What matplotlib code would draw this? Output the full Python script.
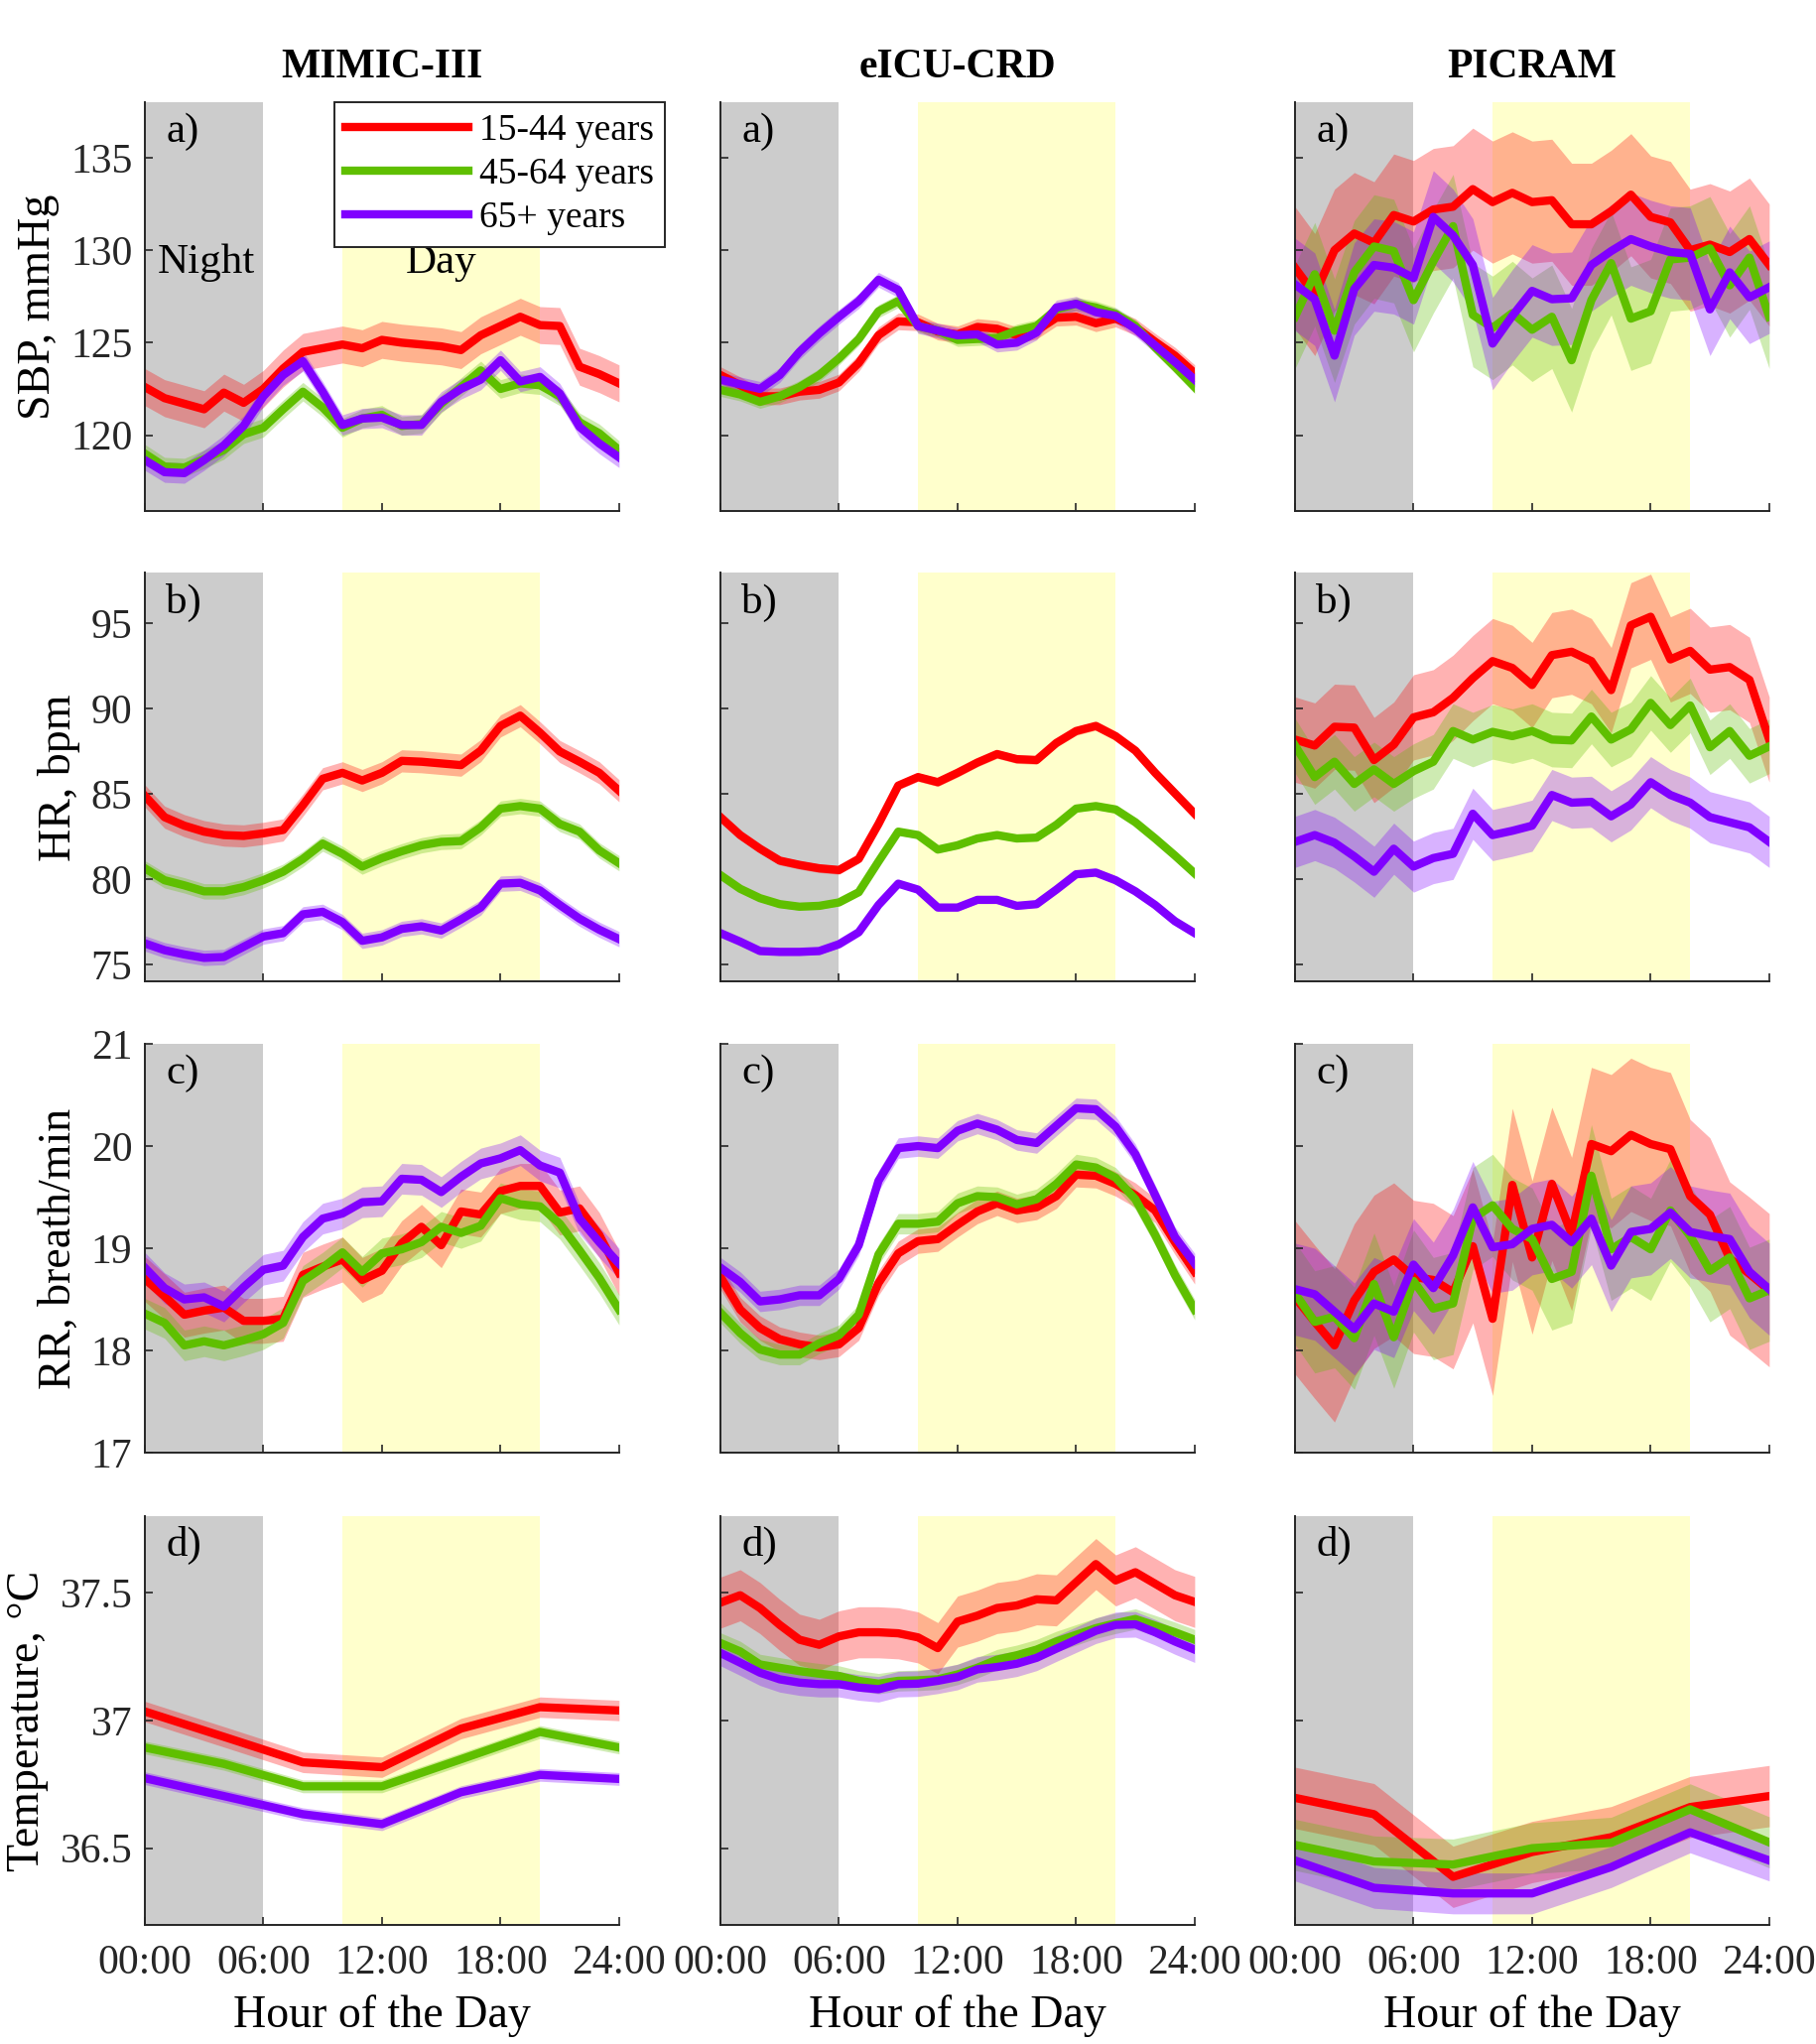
import numpy as np
import matplotlib.pyplot as plt
from matplotlib.ticker import FormatStrFormatter

plt.rcParams['font.family'] = ['Liberation Serif', 'DejaVu Serif']

hours = list(range(25))
hours_4h = [0, 4, 8, 12, 16, 20, 24]

datasets = ['MIMIC-III', 'eICU-CRD', 'PICRAM']
groups = ['15-44 years', '45-64 years', '65+ years']
colors = ['#ff0000', '#5fbf00', '#8000ff']
row_tags = ['a)', 'b)', 'c)', 'd)']
ylabels = ['SBP, mmHg', 'HR, bpm', 'RR, breath/min', 'Temperature, °C']
ylims = [(115.9, 138.0), (74.0, 97.97), (17, 21), (36.2, 37.8)]
yticks = [[120, 125, 130, 135], [75, 80, 85, 90, 95], [17, 18, 19, 20, 21], [36.5, 37, 37.5]]
xticks = [0, 6, 12, 18, 24]
xticklabels = ['00:00', '06:00', '12:00', '18:00', '24:00']

# systolic blood pressure
mimic_sbp_1544 = [122.6, 122.0, 121.7, 121.4, 122.3, 121.75, 122.5, 123.6, 124.5, 124.7, 124.9, 124.7, 125.15,
                  125.0, 124.9, 124.8, 124.6, 125.4, 125.9, 126.4, 125.95, 125.9, 123.7, 123.3, 122.8]
mimic_sbp_4564 = [119.0, 118.3, 118.25, 118.7, 119.2, 120.05, 120.4, 121.4, 122.35, 121.5, 120.4, 120.9, 121.1,
                  120.5, 120.6, 121.7, 122.6, 123.5, 122.5, 122.8, 122.7, 122.1, 120.7, 120.1, 119.2]
mimic_sbp_65 = [118.65, 118.0, 117.95, 118.65, 119.45, 120.5, 122.1, 123.25, 124.0, 122.35, 120.55, 120.9, 120.95,
                120.55, 120.55, 121.8, 122.5, 123.0, 124.05, 122.9, 123.15, 122.25, 120.45, 119.55, 118.8]
eicu_sbp_1544 = [123.25, 122.7, 122.1, 122.1, 122.35, 122.45, 122.85, 123.9, 125.4, 126.15, 126.1, 125.6, 125.45,
                 125.85, 125.75, 125.4, 125.65, 126.35, 126.4, 126.05, 126.3, 125.85, 125.05, 124.3, 123.35]
eicu_sbp_4564 = [122.45, 122.2, 121.8, 122.1, 122.6, 123.25, 124.15, 125.2, 126.7, 127.25, 125.9, 125.65, 125.15,
                 125.2, 125.25, 125.65, 125.9, 126.8, 127.1, 126.9, 126.55, 125.9, 124.75, 123.7, 122.6]
eicu_sbp_65 = [123.0, 122.75, 122.5, 123.25, 124.5, 125.5, 126.4, 127.25, 128.4, 127.85, 125.9, 125.65, 125.4,
               125.45, 124.9, 125.0, 125.55, 126.9, 127.1, 126.65, 126.45, 125.75, 124.85, 123.95, 123.0]
picram_sbp_1544 = [129.05, 127.6, 130.0, 130.9, 130.4, 131.9, 131.55, 132.2, 132.35, 133.3, 132.6, 133.1, 132.6,
                   132.7, 131.4, 131.4, 132.1, 133.0, 131.8, 131.5, 130.0, 130.3, 129.9, 130.6, 129.2]
picram_sbp_4564 = [126.4, 128.7, 125.65, 128.8, 130.2, 129.95, 127.3, 129.4, 131.3, 126.5, 125.8, 126.6, 125.7,
                   126.4, 124.05, 127.3, 129.3, 126.3, 126.7, 129.5, 129.6, 130.1, 128.1, 129.6, 126.4]
picram_sbp_65 = [128.15, 127.35, 124.3, 127.9, 129.2, 129.05, 128.5, 131.8, 130.8, 129.2, 124.95, 126.45, 127.8,
                 127.35, 127.4, 129.2, 129.95, 130.6, 130.2, 129.9, 129.8, 126.8, 128.8, 127.45, 128.0]

# heart rate
mimic_hr_1544 = [84.9, 83.65, 83.15, 82.8, 82.6, 82.55, 82.7, 82.9, 84.35, 85.9, 86.25, 85.8, 86.25,
                 86.95, 86.9, 86.8, 86.7, 87.55, 89.0, 89.6, 88.6, 87.5, 86.9, 86.25, 85.2]
mimic_hr_4564 = [80.65, 79.95, 79.65, 79.3, 79.3, 79.55, 79.95, 80.45, 81.2, 82.1, 81.5, 80.75, 81.25,
                 81.65, 82.0, 82.2, 82.25, 83.05, 84.15, 84.3, 84.15, 83.25, 82.8, 81.7, 80.95]
mimic_hr_65 = [76.25, 75.85, 75.6, 75.4, 75.45, 76.05, 76.65, 76.85, 77.95, 78.1, 77.5, 76.4, 76.6,
               77.1, 77.25, 77.0, 77.65, 78.35, 79.75, 79.8, 79.35, 78.5, 77.7, 77.05, 76.5]
eicu_hr_1544 = [83.65, 82.6, 81.8, 81.1, 80.85, 80.65, 80.55, 81.2, 83.25, 85.5, 86.0, 85.7, 86.25,
                86.85, 87.35, 87.05, 87.0, 88.0, 88.7, 89.0, 88.4, 87.55, 86.25, 85.05, 83.85]
eicu_hr_4564 = [80.25, 79.45, 78.9, 78.55, 78.4, 78.45, 78.65, 79.25, 81.05, 82.8, 82.6, 81.75, 82.0,
                82.4, 82.6, 82.4, 82.45, 83.2, 84.15, 84.3, 84.1, 83.35, 82.4, 81.4, 80.35]
eicu_hr_65 = [76.85, 76.35, 75.8, 75.75, 75.75, 75.8, 76.2, 76.9, 78.5, 79.75, 79.4, 78.35, 78.35,
              78.8, 78.8, 78.45, 78.55, 79.4, 80.3, 80.4, 79.95, 79.3, 78.5, 77.55, 76.85]
picram_hr_1544 = [88.2, 87.85, 88.95, 88.9, 87.0, 87.9, 89.5, 89.8, 90.65, 91.8, 92.8, 92.4, 91.4,
                  93.15, 93.35, 92.8, 91.1, 94.9, 95.4, 92.9, 93.4, 92.3, 92.45, 91.7, 88.2]
picram_hr_4564 = [87.85, 86.0, 86.9, 85.6, 86.45, 85.6, 86.35, 86.9, 88.7, 88.2, 88.65, 88.4, 88.7,
                  88.2, 88.15, 89.55, 88.2, 88.8, 90.35, 89.05, 90.2, 87.75, 88.7, 87.25, 87.8]
picram_hr_65 = [82.2, 82.6, 82.15, 81.35, 80.45, 81.8, 80.75, 81.25, 81.5, 83.85, 82.6, 82.85, 83.15,
                84.95, 84.5, 84.55, 83.7, 84.4, 85.7, 84.95, 84.5, 83.65, 83.35, 83.05, 82.2]

# respiratory rate
mimic_rr_1544 = [18.70, 18.53, 18.35, 18.39, 18.42, 18.29, 18.29, 18.31, 18.74, 18.82, 18.89, 18.69, 18.78,
                 19.05, 19.21, 19.03, 19.36, 19.33, 19.56, 19.61, 19.61, 19.35, 19.39, 19.13, 18.76]
mimic_rr_4564 = [18.36, 18.27, 18.05, 18.09, 18.05, 18.10, 18.16, 18.27, 18.68, 18.81, 18.96, 18.77, 18.95,
                 18.99, 19.06, 19.21, 19.15, 19.22, 19.49, 19.43, 19.41, 19.24, 18.98, 18.71, 18.40]
mimic_rr_65 = [18.81, 18.61, 18.50, 18.52, 18.43, 18.62, 18.79, 18.83, 19.11, 19.29, 19.34, 19.45, 19.46,
               19.68, 19.67, 19.55, 19.70, 19.83, 19.88, 19.96, 19.81, 19.74, 19.29, 19.06, 18.85]
eicu_rr_1544 = [18.72, 18.40, 18.22, 18.11, 18.06, 18.03, 18.06, 18.22, 18.66, 18.95, 19.07, 19.09, 19.23,
                19.36, 19.44, 19.37, 19.40, 19.51, 19.72, 19.71, 19.63, 19.52, 19.37, 19.06, 18.77]
eicu_rr_4564 = [18.37, 18.17, 18.01, 17.96, 17.96, 18.07, 18.15, 18.35, 18.94, 19.24, 19.24, 19.26, 19.44,
                19.51, 19.50, 19.43, 19.48, 19.63, 19.82, 19.79, 19.69, 19.48, 19.13, 18.74, 18.40]
eicu_rr_65 = [18.81, 18.67, 18.48, 18.50, 18.54, 18.54, 18.70, 19.03, 19.66, 19.98, 20.00, 19.98, 20.15,
              20.22, 20.16, 20.06, 20.03, 20.20, 20.37, 20.36, 20.19, 19.92, 19.52, 19.11, 18.85]
picram_rr_1544 = [18.52, 18.28, 18.05, 18.49, 18.77, 18.89, 18.72, 18.69, 18.57, 19.02, 18.31, 19.62, 18.91,
                  19.63, 19.14, 20.02, 19.95, 20.11, 20.02, 19.97, 19.51, 19.33, 18.90, 18.75, 18.59]
picram_rr_4564 = [18.56, 18.28, 18.33, 18.12, 18.65, 18.13, 18.68, 18.41, 18.46, 19.29, 19.42, 19.19, 19.09,
                  18.70, 18.77, 19.71, 18.99, 19.11, 18.99, 19.37, 19.12, 18.78, 18.91, 18.51, 18.59]
picram_rr_65 = [18.60, 18.55, 18.38, 18.21, 18.46, 18.38, 18.84, 18.61, 18.93, 19.40, 19.01, 19.04, 19.19,
                19.23, 19.06, 19.29, 18.83, 19.16, 19.19, 19.35, 19.16, 19.12, 19.09, 18.77, 18.60]

# temperature (MIMIC-III and PICRAM in 4 h bins)
mimic_temp_1544 = [37.035, 36.936, 36.836, 36.817, 36.968, 37.052, 37.039]
mimic_temp_4564 = [36.894, 36.830, 36.742, 36.742, 36.848, 36.955, 36.894]
mimic_temp_65 = [36.774, 36.704, 36.633, 36.594, 36.719, 36.787, 36.771]
eicu_temp_1544 = [37.461, 37.49, 37.44, 37.374, 37.316, 37.296, 37.329, 37.345, 37.345, 37.341, 37.325, 37.283,
                  37.387, 37.41, 37.44, 37.45, 37.474, 37.47, 37.541, 37.612, 37.548, 37.58, 37.535, 37.49, 37.464]
eicu_temp_4564 = [37.303, 37.27, 37.219, 37.206, 37.193, 37.183, 37.174, 37.155, 37.144, 37.155, 37.157, 37.161,
                  37.18, 37.206, 37.238, 37.255, 37.277, 37.309, 37.335, 37.361, 37.38, 37.397, 37.371, 37.345, 37.316]
eicu_temp_65 = [37.264, 37.226, 37.187, 37.161, 37.148, 37.142, 37.142, 37.129, 37.122, 37.142, 37.144, 37.155,
                37.17, 37.2, 37.209, 37.222, 37.245, 37.281, 37.316, 37.351, 37.374, 37.376, 37.345, 37.309, 37.277]
picram_temp_1544 = [36.697, 36.633, 36.388, 36.485, 36.543, 36.661, 36.704]
picram_temp_4564 = [36.513, 36.448, 36.436, 36.5, 36.521, 36.652, 36.523]
picram_temp_65 = [36.452, 36.345, 36.323, 36.323, 36.426, 36.562, 36.452]

# half widths of the shaded bands (15-44, 45-64, 65+)
mimic_sbp_band = [1.0, 0.5, 0.55]
eicu_sbp_band = [0.45, 0.35, 0.4]
picram_sbp_band = [3.3, 2.8, 2.5]
mimic_hr_band = [0.65, 0.45, 0.45]
eicu_hr_band = [0.25, 0.2, 0.2]
picram_hr_band = [2.5, 1.6, 1.5]
mimic_rr_band = [0.22, 0.15, 0.15]
eicu_rr_band = [0.12, 0.1, 0.1]
picram_rr_band = [0.75, 0.5, 0.45]
mimic_temp_band = [0.04, 0.025, 0.025]
eicu_temp_band = [0.1, 0.04, 0.05]
picram_temp_band = [0.12, 0.1, 0.08]

panels = [
    [(hours, [mimic_sbp_1544, mimic_sbp_4564, mimic_sbp_65], mimic_sbp_band),
     (hours, [eicu_sbp_1544, eicu_sbp_4564, eicu_sbp_65], eicu_sbp_band),
     (hours, [picram_sbp_1544, picram_sbp_4564, picram_sbp_65], picram_sbp_band)],
    [(hours, [mimic_hr_1544, mimic_hr_4564, mimic_hr_65], mimic_hr_band),
     (hours, [eicu_hr_1544, eicu_hr_4564, eicu_hr_65], eicu_hr_band),
     (hours, [picram_hr_1544, picram_hr_4564, picram_hr_65], picram_hr_band)],
    [(hours, [mimic_rr_1544, mimic_rr_4564, mimic_rr_65], mimic_rr_band),
     (hours, [eicu_rr_1544, eicu_rr_4564, eicu_rr_65], eicu_rr_band),
     (hours, [picram_rr_1544, picram_rr_4564, picram_rr_65], picram_rr_band)],
    [(hours_4h, [mimic_temp_1544, mimic_temp_4564, mimic_temp_65], mimic_temp_band),
     (hours, [eicu_temp_1544, eicu_temp_4564, eicu_temp_65], eicu_temp_band),
     (hours_4h, [picram_temp_1544, picram_temp_4564, picram_temp_65], picram_temp_band)],
]

fig = plt.figure(figsize=(18.31, 20.6), dpi=100)
lefts = [0.0797, 0.3965, 0.7127]
bottoms = [0.75, 0.5197, 0.2893, 0.0583]
width, height = 0.261, 0.2

for r in range(4):
    for c in range(3):
        ax = fig.add_axes([lefts[c], bottoms[r], width, height])
        ax.axvspan(0, 6, color='#cccccc', lw=0, zorder=0)
        ax.axvspan(10, 20, color='#ffffcc', lw=0, zorder=0)
        x, series, band = panels[r][c]
        for k in range(3):
            y = np.array(series[k])
            ax.fill_between(x, y - band[k], y + band[k], color=colors[k], alpha=0.3, lw=0)
            ax.plot(x, y, color=colors[k], lw=6, label=groups[k])
        ax.set_xlim(0, 24)
        ax.set_ylim(*ylims[r])
        ax.set_xticks(xticks)
        ax.set_yticks(yticks[r])
        ax.yaxis.set_major_formatter(FormatStrFormatter('%g'))
        for side in ['top', 'right']:
            ax.spines[side].set_visible(False)
        for side in ['left', 'bottom']:
            ax.spines[side].set_color('#262626')
            ax.spines[side].set_linewidth(1.4)
        ax.tick_params(direction='in', length=6, width=1.2, colors='#262626',
                       labelcolor='#262626', labelsize=30)
        ax.tick_params(axis='y', pad=9)
        ax.tick_params(axis='x', pad=14)
        ax.text(0.045, 0.975, row_tags[r], transform=ax.transAxes, va='top', ha='left', fontsize=31)
        if r == 3:
            ax.set_xticklabels(xticklabels)
            ax.set_xlabel('Hour of the Day', fontsize=33, labelpad=9)
        else:
            ax.set_xticklabels([])
        if c == 0:
            ax.set_ylabel(ylabels[r], fontsize=33, labelpad=8)
        else:
            ax.set_yticklabels([])
        if r == 0:
            ax.set_title(datasets[c], fontsize=30, fontweight='bold', pad=18)
        if r == 0 and c == 0:
            ax.text(3.1, 129.3, 'Night', ha='center', va='center', fontsize=31)
            ax.text(15.0, 129.3, 'Day', ha='center', va='center', fontsize=31)
            leg = ax.legend(loc='upper left', bbox_to_anchor=(0.184, 0.95), bbox_transform=fig.transFigure,
                            fontsize=27, frameon=True, fancybox=False, framealpha=1, edgecolor='#262626',
                            handlelength=3.3, handletextpad=0.3, labelspacing=0.26, borderpad=0.3,
                            borderaxespad=0)
            leg.get_frame().set_linewidth(1.4)
            leg.set_zorder(10)

fig.savefig('out.png', dpi=100)
